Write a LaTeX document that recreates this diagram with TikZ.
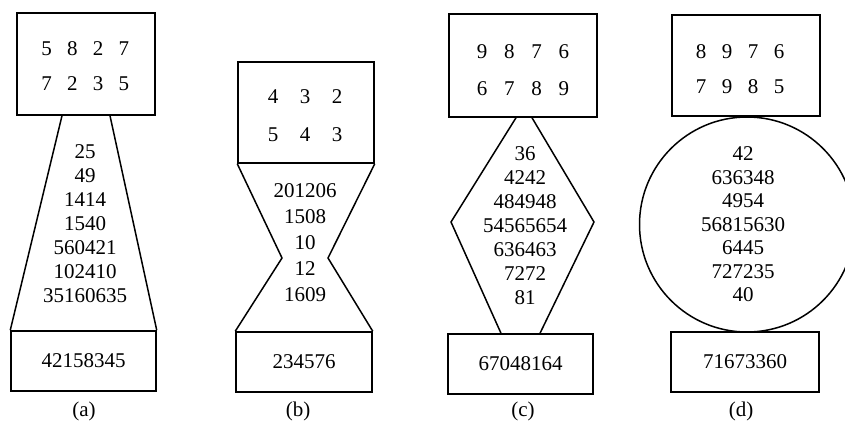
\documentclass[tikz,border=0pt]{standalone}
\usepackage{fontspec}
\setmainfont{Liberation Serif}
\usetikzlibrary{calc}
\tikzstyle{box} = [draw,inner sep=0pt]
\tikzstyle{num} = [align=center,inner sep=0pt]
\tikzset{x=1pt,y=-1pt}

\begin{document}
\begin{tikzpicture}[line width=1.5pt,font=\fontsize{21}{24}\selectfont]
    \useasboundingbox (0,0) rectangle (845,437);
    % (a) trapezoid
    \node [box,minimum width=138,minimum height=102] (a-in) at (86,64) {};
    \node [box,minimum width=145,minimum height=60] (a-out) at (83.5,361) {42158345};
    \foreach \d [count=\i] in {5,8,2,7} \node (a-u\i) at ({21+25.7*\i},49) {\d};
    \foreach \d [count=\i] in {7,2,3,5} \node (a-v\i) at ({21+25.7*\i},84) {\d};
    \node [num] (a-mid) at (85,224) {25\\49\\1414\\1540\\560421\\102410\\35160635};
    \draw ($(a-in.south)+(-24,0)$) -- (a-out.north west);
    \draw ($(a-in.south)+(24,0)$) -- (a-out.north east);
    \node (a-lab) at (84,411) {(a)};
    % (b) hourglass
    \node [box,minimum width=136,minimum height=101] (b-in) at (306,112.5) {};
    \node [box,minimum width=136,minimum height=60] (b-out) at (304,362) {234576};
    \foreach \d [count=\i] in {4,3,2} \node (b-u\i) at ({241+32*\i},97) {\d};
    \foreach \d [count=\i] in {5,4,3} \node (b-v\i) at ({241+32*\i},135) {\d};
    \node [num,font=\fontsize{21}{26}\selectfont] (b-mid) at (305,243) {201206\\1508\\10\\12\\1609};
    \coordinate (b-wl) at (282,258);
    \coordinate (b-wr) at (328,258);
    \draw (b-in.south west) -- (b-wl) -- (b-out.north west);
    \draw (b-in.south east) -- (b-wr) -- (b-out.north east);
    \node (b-lab) at (298,411) {(b)};
    % (c) diamond
    \node [box,minimum width=148,minimum height=103] (c-in) at (523,65.5) {};
    \node [box,minimum width=145,minimum height=60] (c-out) at (520.5,364) {67048164};
    \foreach \d [count=\i] in {9,8,7,6} \node (c-u\i) at ({454.7+27.3*\i},52) {\d};
    \foreach \d [count=\i] in {6,7,8,9} \node (c-v\i) at ({454.7+27.3*\i},89) {\d};
    \node [num] (c-mid) at (525,226) {36\\4242\\484948\\54565654\\636463\\7272\\81};
    \coordinate (c-l) at (451,222);
    \coordinate (c-r) at (594,222);
    \draw ($(c-in.south)+(-7,0)$) -- (c-l) -- ($(c-out.north)+(-19.5,0)$);
    \draw ($(c-in.south)+(9,0)$) -- (c-r) -- ($(c-out.north)+(19.5,0)$);
    \node (c-lab) at (523,411) {(c)};
    % (d) circle
    \node [box,minimum width=148,minimum height=101] (d-in) at (746,65.5) {};
    \node [box,minimum width=148,minimum height=60] (d-out) at (745,362) {71673360};
    \foreach \d [count=\i] in {8,9,7,6} \node (d-u\i) at ({675+26*\i},52) {\d};
    \foreach \d [count=\i] in {7,9,8,5} \node (d-v\i) at ({675+26*\i},87) {\d};
    \node [draw,circle,minimum size=215,inner sep=0pt] (d-ring) at (747,224.5) {};
    \node [num,font=\fontsize{21}{23.5}\selectfont] (d-mid) at (743,224.5) {42\\636348\\4954\\56815630\\6445\\727235\\40};
    \node (d-lab) at (741,411) {(d)};
\end{tikzpicture}
\end{document}
